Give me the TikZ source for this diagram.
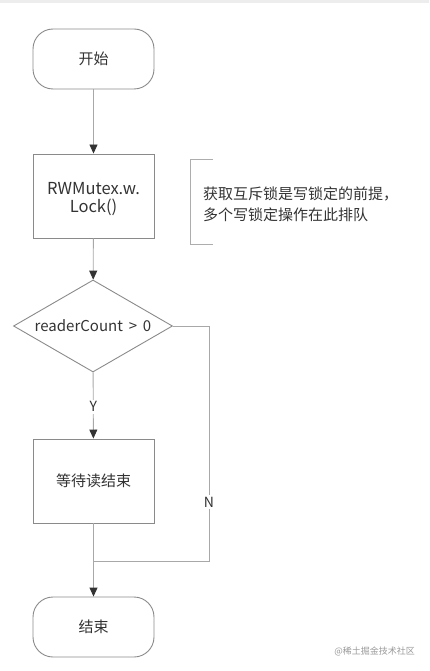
\documentclass[tikz,border=0pt]{standalone}
\usepackage{fontspec}
\setmainfont{Noto Sans CJK SC}
\usetikzlibrary{shapes.geometric,arrows.meta}
\definecolor{bordc}{HTML}{8A8A8A}
\definecolor{linec}{HTML}{A8A8A8}
\definecolor{tipc}{HTML}{333333}
\definecolor{txtc}{HTML}{333333}
\tikzset{
  term/.style={draw=bordc,line width=0.9pt,rounded corners=20pt,minimum width=121pt,minimum height=60pt,inner sep=0pt,text=txtc,font=\fontsize{15}{18}\selectfont},
  procbox/.style={draw=bordc,line width=0.9pt,minimum width=121pt,minimum height=84pt,inner sep=0pt,text=txtc,align=center,font=\fontsize{15}{18}\selectfont},
  decide/.style={diamond,draw=bordc,line width=0.9pt,minimum width=159pt,minimum height=92pt,aspect=1.73,inner sep=0pt,text=txtc,font=\fontsize{15}{18}\selectfont},
  conn/.style={draw=linec,line width=0.9pt},
  arr/.style={conn,-{Triangle[length=9pt,width=8pt,color=tipc,fill=tipc]}},
  lbl/.style={fill=white,inner sep=2pt,text=txtc,font=\fontsize{14}{16}\selectfont},
  note/.style={text=txtc,align=left,anchor=west,inner sep=0pt,font=\fontsize{15}{21}\selectfont}
}
\begin{document}
\begin{tikzpicture}[x=1pt,y=-1pt]
\useasboundingbox (0,0) rectangle (429,671);
\fill[black!7] (0,0) rectangle (429,3);
\node[term] (start) at (93.5,59) {开始};
\node[procbox] (lock) at (93.5,196) {};
\node[font=\fontsize{16.5}{18}\selectfont,text=txtc,align=center,inner sep=0pt] (locktxt) at (93.5,199) {RWMutex.w.\\Lock()};
\node[decide] (dia) at (93,326) {readerCount \,>\, 0};
\node[procbox] (wait) at (93.5,481) {等待读结束};
\node[term] (stop) at (93.5,627) {结束};
\node[note] (nt) at (203,204) {获取互斥锁是写锁定的前提，\\多个写锁定操作在此排队};
\coordinate (bt) at (213,159);
\coordinate (bb) at (213,244);
\draw[draw=bordc!70,line width=0.9pt] (bt) -- (190,159) -- (190,244) -- (bb);
\coordinate (nr) at (209,326);
\coordinate (j) at (93.5,561);
\draw[arr] (start) -- (lock);
\draw[arr] (lock) -- (dia);
\draw[arr] (dia) -- node[lbl,pos=0.52] {Y} (wait);
\draw[conn] (dia.east) -- (nr) -- node[lbl,pos=0.75] {N} (nr |- j) -- (j);
\draw[conn] (wait) -- (j);
\draw[arr] (j) -- (stop);
\node[text=black!40,font=\fontsize{9}{10}\selectfont,anchor=east,inner sep=0pt] (wm) at (415,651) {@稀土掘金技术社区};
\end{tikzpicture}
\end{document}
